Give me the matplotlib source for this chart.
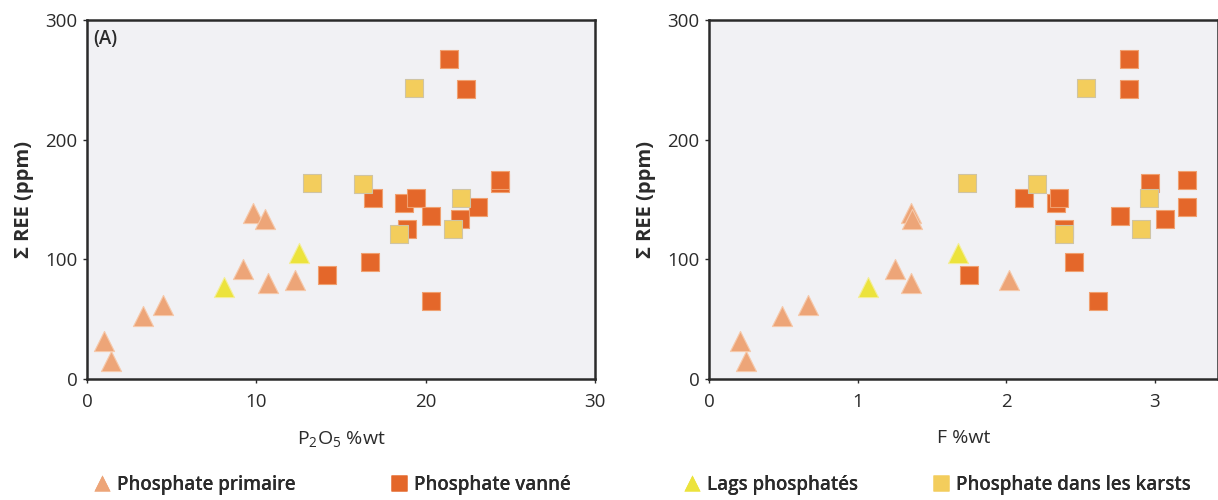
import matplotlib.pyplot as plt
from matplotlib.lines import Line2D

plt.rcParams['font.family'] = ['Open Sans', 'DejaVu Sans']
plt.rcParams['mathtext.fontset'] = 'custom'
plt.rcParams['mathtext.rm'] = 'Open Sans'
plt.rcParams['mathtext.it'] = 'Open Sans'

# Phosphate primaire
prim_ree = [32, 15, 53, 62, 92, 139, 134, 80, 83]
prim_p2o5 = [1.0, 1.4, 3.3, 4.5, 9.2, 9.8, 10.5, 10.7, 12.3]
prim_f = [0.21, 0.25, 0.49, 0.67, 1.25, 1.36, 1.37, 1.36, 2.02]

# Phosphate vanné
van_ree = [267, 242, 151, 147, 151, 125, 136, 134, 144, 164, 166, 98, 87, 65]
van_p2o5 = [21.4, 22.4, 16.9, 18.7, 19.4, 18.9, 20.3, 22.0, 23.1, 24.4, 24.4, 16.7, 14.2, 20.3]
van_f = [2.83, 2.83, 2.12, 2.34, 2.36, 2.39, 2.77, 3.07, 3.22, 2.97, 3.22, 2.46, 1.75, 2.62]

# Lags phosphatés
lag_ree = [77, 105]
lag_p2o5 = [8.1, 12.5]
lag_f = [1.07, 1.68]

# Phosphate dans les karsts
kar_ree = [243, 164, 163, 151, 121, 125]
kar_p2o5 = [19.3, 13.3, 16.3, 22.1, 18.4, 21.6]
kar_f = [2.54, 1.74, 2.21, 2.96, 2.39, 2.91]

c_prim = '#eda578'
c_van = '#e4672a'
c_lag = '#ece33c'
c_kar = '#f3cd5c'
bg = '#f1f1f4'
dark = '#2b2b2b'

fig = plt.figure(figsize=(12.18, 5), dpi=100)
ax1 = fig.add_axes([87 / 1218, 121 / 500, 508 / 1218, 359 / 500])
ax2 = fig.add_axes([709 / 1218, 121 / 500, 509 / 1218, 359 / 500])

sq = dict(marker='s', s=150, linewidths=0.8, zorder=3)
tri = dict(marker='^', s=210, linewidths=0.8, zorder=4)

for ax, xp, xv, xl, xk in [(ax1, prim_p2o5, van_p2o5, lag_p2o5, kar_p2o5),
                           (ax2, prim_f, van_f, lag_f, kar_f)]:
    ax.set_facecolor(bg)
    ax.scatter(xv, van_ree, color=c_van, edgecolors='#f0a070', **sq)
    ax.scatter(xk, kar_ree, color=c_kar, edgecolors='#cfc4a4', **sq)
    ax.scatter(xp, prim_ree, color=c_prim, edgecolors='#f6c9aa', **tri)
    ax.scatter(xl, lag_ree, color=c_lag, edgecolors='#f4ee9a', **tri)
    ax.set_ylim(0, 300)
    ax.set_yticks([0, 100, 200, 300])
    ax.set_ylabel('Σ REE (ppm)', fontsize=14.5, fontweight='bold', color=dark, labelpad=8)
    for s in ax.spines.values():
        s.set_linewidth(1.8)
        s.set_color(dark)
    ax.tick_params(labelsize=13.5, colors=dark, length=3, width=1, pad=4)
    ax.tick_params(axis='x', pad=7)

ax1.set_xlim(0, 30)
ax1.set_xticks([0, 10, 20, 30])
ax1.set_xlabel(r'P$_2$O$_5$ %wt', fontsize=14, color=dark, labelpad=13)
ax1.text(0.012, 0.975, '(A)', transform=ax1.transAxes, fontsize=13.5,
         fontweight='semibold', color=dark, va='top')

ax2.set_xlim(0, 509 / 148.5)
ax2.set_xticks([0, 1, 2, 3])
ax2.set_xlabel('F %wt', fontsize=14, color=dark, labelpad=13)

# legend
items = [('^', c_prim, 'Phosphate primaire', 0.062),
         ('s', c_van, 'Phosphate vanné', 0.306),
         ('^', c_lag, 'Lags phosphatés', 0.547),
         ('s', c_kar, 'Phosphate dans les karsts', 0.751)]
for m, c, lab, xpos in items:
    h = Line2D([], [], marker=m, color=c, linestyle='none', markersize=12,
               markeredgecolor='none')
    leg = fig.legend([h], [lab], loc='center left', bbox_to_anchor=(xpos, 0.03),
                     frameon=False, handletextpad=0.3, handlelength=1.0,
                     prop={'size': 13.5, 'weight': 'semibold'}, labelcolor=dark)
    fig.add_artist(leg)

fig.savefig('out.png', dpi=100)
